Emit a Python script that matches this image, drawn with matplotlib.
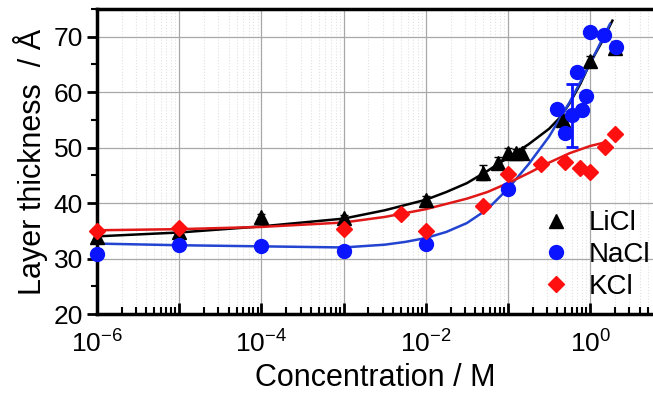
import numpy as np
import matplotlib
matplotlib.use("Agg")
import matplotlib.pyplot as plt
from matplotlib.ticker import FixedLocator, NullFormatter, MultipleLocator
from matplotlib.lines import Line2D

plt.rcParams['font.family'] = ['Liberation Sans', 'DejaVu Sans']

# ---- data ----
licl_c = [1e-6, 1e-5, 1e-4, 1e-3, 1e-2, 0.05, 0.075, 0.1, 0.125, 0.15, 0.47, 1.0, 2.0]
licl_y = [33.8, 34.8, 37.5, 37.3, 40.5, 45.5, 47.3, 49.1, 49.0, 49.1, 54.9, 65.7, 68.0]
licl_err = [0.5, 0.4, 0.5, 0.5, 0.8, 1.4, 1.0, 0.8, 0.8, 0.8, 1.0, 0.8, 1.2]

nacl_c = [1e-6, 1e-5, 1e-4, 1e-3, 1e-2, 0.1, 0.4, 0.49, 0.6, 0.7, 0.8, 0.88, 1.0, 1.48, 2.04]
nacl_y = [30.8, 32.4, 32.2, 31.4, 32.7, 42.6, 56.9, 52.6, 55.8, 63.6, 56.8, 59.4, 70.8, 70.4, 68.2]
nacl_err = [0, 0, 0, 0, 0, 0, 0, 0, 5.7, 0, 0, 0, 0, 0, 0]

kcl_c = [1e-6, 1e-5, 1e-3, 5e-3, 1e-2, 0.05, 0.1, 0.25, 0.49, 0.75, 1.0, 1.5, 2.0]
kcl_y = [35.0, 35.5, 35.4, 38.1, 35.0, 39.5, 45.3, 47.0, 47.4, 46.4, 45.6, 50.2, 52.5]

# fitted curves (log10 concentration, thickness)
licl_fit_logc = [-6, -5, -4, -3, -2.5, -2, -1.75, -1.5, -1.25, -1, -0.75, -0.5, -0.37,
                 -0.25, -0.12, 0, 0.14, 0.27]
licl_fit_y = [34.0, 34.7, 35.8, 37.2, 38.7, 40.6, 42.0, 43.6, 45.8, 48.2, 50.6, 53.4, 55.4,
              58.0, 61.5, 65.3, 69.0, 72.9]

nacl_fit_logc = [-6, -5, -4, -3, -2.5, -2.25, -2, -1.75, -1.5, -1.25, -1, -0.75, -0.5,
                 -0.25, 0, 0.24]
nacl_fit_y = [32.7, 32.4, 32.2, 32.0, 32.5, 33.0, 33.7, 34.8, 36.4, 38.9, 42.6, 47.0, 52.0,
              58.2, 65.2, 72.3]

kcl_fit_logc = [-6, -5, -4, -3, -2.5, -2, -1.5, -1.25, -1, -0.75, -0.5, -0.25, 0, 0.14]
kcl_fit_y = [35.1, 35.3, 35.7, 36.5, 37.5, 38.9, 40.8, 42.0, 43.6, 45.4, 47.3, 49.0, 50.3, 50.8]

labels = ['LiCl', 'NaCl', 'KCl']
yticks = [20, 30, 40, 50, 60, 70]

# ---- figure ----
W, H = 653, 393
fig = plt.figure(figsize=(W / 100, H / 100), dpi=100)
ax = fig.add_axes([97 / W, (H - 314) / H, (W - 97) / W, (314 - 9) / H])

black = '#000000'
blue_m = '#0a14ff'
blue_l = '#2244d0'
red_m = '#ff1010'
red_l = '#e01818'

ax.plot(10 ** np.array(licl_fit_logc), licl_fit_y, color=black, lw=1.8, zorder=3)
ax.plot(10 ** np.array(nacl_fit_logc), nacl_fit_y, color=blue_l, lw=1.8, zorder=3)
ax.plot(10 ** np.array(kcl_fit_logc), kcl_fit_y, color=red_l, lw=1.8, zorder=3)

ax.errorbar(licl_c, licl_y, yerr=licl_err, fmt='^', color=black, ms=9.5,
            capsize=3, elinewidth=1.5, zorder=4, clip_on=False)
ax.errorbar(nacl_c, nacl_y, yerr=nacl_err, fmt='o', color=blue_m, ms=10,
            capsize=4, elinewidth=2, capthick=2, zorder=5, clip_on=False)
ax.plot(kcl_c, kcl_y, 'D', color=red_m, ms=8.5, zorder=6, clip_on=False, ls='none')

ax.set_xscale('log')
ax.set_xlim(1e-6, 10 ** ((W - 97) / 82.2 - 6))
ax.set_ylim(20, 75)

decades = [10.0 ** k for k in range(-6, 1)]
ax.xaxis.set_major_locator(FixedLocator(decades))
ax.set_xticklabels([r'$\mathregular{10^{%d}}$' % k if k % 2 == 0 else '' for k in range(-6, 1)])
minors = [m * 10.0 ** k for k in range(-6, 1) for m in range(2, 10)]
ax.xaxis.set_minor_locator(FixedLocator(minors))
ax.xaxis.set_minor_formatter(NullFormatter())

ax.set_yticks(yticks)
ax.yaxis.set_minor_locator(MultipleLocator(5))

ax.tick_params(axis='x', which='major', direction='in', length=8, width=2, labelsize=19, pad=12)
ax.tick_params(axis='x', which='minor', direction='in', length=5, width=1.5)
ax.tick_params(axis='y', which='major', direction='out', length=7, width=2, labelsize=19, pad=3)
ax.tick_params(axis='y', which='minor', direction='out', length=4, width=1.5)

ax.grid(True, which='major', color='#a8a8a8', lw=0.9)
ax.grid(True, which='minor', axis='x', color='#e2e2e2', lw=0.8, ls=':')
ax.set_axisbelow(True)

for s in ['left', 'bottom', 'top']:
    ax.spines[s].set_linewidth(2.5)
ax.spines['right'].set_visible(False)

ax.set_xlabel('Concentration / M', fontsize=22, labelpad=4)
ax.set_ylabel('Layer thickness  / Å', fontsize=22, labelpad=4)

handles = [Line2D([], [], marker='^', color=black, ls='none', ms=9.5),
           Line2D([], [], marker='o', color=blue_m, ls='none', ms=10),
           Line2D([], [], marker='D', color=red_m, ls='none', ms=8.5)]
ax.legend(handles, labels, loc='center left', bbox_to_anchor=((542 - 97) / (W - 97), (314 - 255) / 305),
          frameon=False, fontsize=20, handlelength=1.0, handletextpad=0.7,
          labelspacing=0.2, borderpad=0, borderaxespad=0)

fig.savefig('out.png', dpi=100)
